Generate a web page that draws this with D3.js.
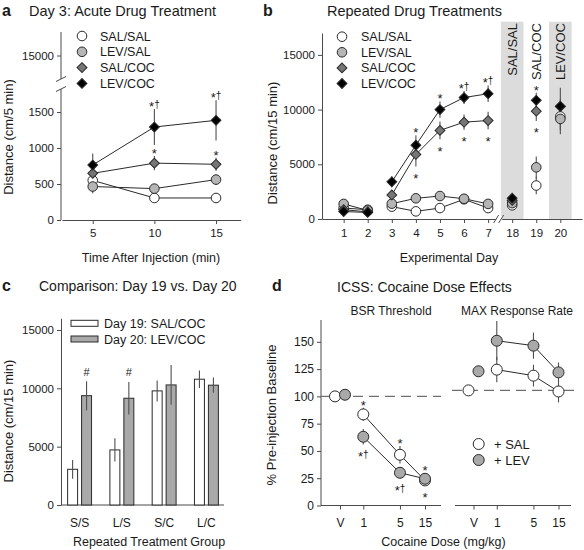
<!DOCTYPE html>
<html><head><meta charset="utf-8">
<script src="https://cdn.jsdelivr.net/npm/d3@7"></script>
<style>
body{margin:0;background:#fff}
text{font-family:"Liberation Sans",Arial,Helvetica,sans-serif;fill:#1a1a1a}
</style>
</head><body>
<svg id="chart" width="584" height="550"></svg>
<script>
// ---------- DATA ----------
const seriesNames = ["SAL/SAL","LEV/SAL","SAL/COC","LEV/COC"];
const seriesShape = ["circle","circle","diamond","diamond"];
const seriesFill  = ["#ffffff","#b5b5b5","#767676","#000000"];

// Panel a: Day 3 acute (cm/5 min)
const aTimes = [5,10,15];
const aYTicks = [0,500,1000,1500,15000];
const aSalSal = [550,306,306],  aSalSalErr = [40,30,30];
const aLevSal = [465,436,561],  aLevSalErr = [95,50,70];
const aSalCoc = [648,790,774],  aSalCocErr = [80,100,90];
const aLevCoc = [764,1292,1385],aLevCocErr = [160,250,280];
const aAnnot = [
  {s:3,i:1,t:"*†",pos:"above"},{s:3,i:2,t:"*†",pos:"above"},
  {s:2,i:1,t:"*",pos:"above"},{s:2,i:2,t:"*",pos:"above"}];

// Panel b: repeated treatments (cm/15 min)
const bDays = ["1","2","3","4","5","6","7","18","19","20"];
const bYTicks = [0,5000,10000,15000];
const bSalSal = [1000,850,1130,700,1000,1800,1000,1250,3060,9370];
const bSalSalErr = [150,100,150,150,150,150,150,150,800,1240];
const bLevSal = [1380,780,1400,1890,2100,1850,1380,1450,4720,9150];
const bLevSalErr = [150,100,200,200,200,200,200,150,1000,1400];
const bSalCoc = [850,650,2200,5900,8100,8850,9000,1700,9850,10290];
const bSalCocErr = [150,100,400,1100,800,700,800,200,900,1700];
const bLevCoc = [680,600,3400,6750,10000,11100,11450,1900,10850,10300];
const bLevCocErr = [150,100,500,900,750,600,750,200,700,650];
const bSegments = [[0,1],[2,6]];
const bBands = [{day:"18",label:"SAL/SAL",shade:true},{day:"19",label:"SAL/COC",shade:false},{day:"20",label:"LEV/COC",shade:true}];
const bAnnot = [
  {s:3,i:3,t:"*",pos:"above"},{s:3,i:4,t:"*",pos:"above"},{s:3,i:5,t:"*†",pos:"above"},
  {s:3,i:6,t:"*†",pos:"above"},{s:3,i:8,t:"*",pos:"above"},
  {s:2,i:3,t:"*",pos:"below"},{s:2,i:4,t:"*",pos:"below"},{s:2,i:5,t:"*",pos:"below"},
  {s:2,i:6,t:"*",pos:"below"},{s:2,i:8,t:"*",pos:"below"}];

// Panel c: Day 19 vs Day 20
const cGroups = ["S/S","L/S","S/C","L/C"];
const cYTicks = [0,5000,10000,15000];
const cDay19 = [3060,4720,9780,10780], cDay19Err = [800,1000,900,750];
const cDay20 = [9370,9150,10290,10270], cDay20Err = [1240,1400,1700,650];
const cLegend = ["Day 19: SAL/COC","Day 20: LEV/COC"];
const cHash = [true,true,false,false];

// Panel d: ICSS
const dDoses = ["V","1","5","15"];
const dDoseVals = [0.36,1,5,15];
const dYTicks = [0,25,50,75,100,125,150];
const dBsrSal = [100,83.5,46.5,23],   dBsrSalErr = [2,6,8,3];
const dBsrLev = [101.5,63,30,24.5],   dBsrLevErr = [2,7,5,3];
const dMaxSal = [105.5,124.5,119,104.5], dMaxSalErr = [2,11.5,10,10];
const dMaxLev = [123,151,146.5,122],  dMaxLevErr = [5,18,12,9];
const dAnnot = [
  {s:0,i:1,t:"*",pos:"above"},{s:1,i:1,t:"*†",pos:"below"},
  {s:0,i:2,t:"*",pos:"above"},{s:1,i:2,t:"*†",pos:"below"},
  {s:1,i:3,t:"*",pos:"above"},{s:0,i:3,t:"*",pos:"below"}];
const dSeriesNames = ["+ SAL","+ LEV"];
const dSeriesFill = ["#ffffff","#a9a9a9"];

// ---------- HELPERS ----------
const svg = d3.select("#chart");
svg.append("rect").attr("width",584).attr("height",550).attr("fill","#fff");
const AX = "#4a4a4a";
const fmt = d3.format("d");

function txt(g,x,y,s,o={}){
  const t=g.append("text").attr("x",x).attr("y",y).text(s)
    .attr("font-size",o.fs||12).attr("text-anchor",o.anchor||"start");
  if(o.weight) t.attr("font-weight",o.weight);
  if(o.rot) t.attr("transform",`rotate(${o.rot},${x},${y})`);
  return t;
}
function marker(g,shape,x,y,fill,r){
  if(shape==="circle"){
    g.append("circle").attr("cx",x).attr("cy",y).attr("r",r)
      .attr("fill",fill).attr("stroke","#2a2a2a").attr("stroke-width",1);
  } else {
    g.append("path").attr("d",d3.symbol(d3.symbolSquare,r*r*2.1)())
      .attr("transform",`translate(${x},${y}) rotate(45)`)
      .attr("fill",fill).attr("stroke","#2a2a2a").attr("stroke-width",1);
  }
}
function errbar(g,x,y1,y2){
  g.append("line").attr("x1",x).attr("x2",x).attr("y1",y1).attr("y2",y2)
    .attr("stroke","#505050").attr("stroke-width",1.1);
}
function annot(g,x,yTop,yBot,t,pos,fs=13){
  const c = pos==="above" ? yTop-5.5 : yBot+9;
  const el = g.append("text").attr("x",x).attr("y",c+0.57*fs)
    .attr("font-size",fs).attr("text-anchor","middle").attr("fill","#1a1a1a");
  el.append("tspan").text("*");
  if(t.length>1) el.append("tspan").attr("font-size",10).attr("dy",-3)
    .attr("fill","#1a1a1a").text(t.slice(1));
}
function styleAxis(sel,fs=11.5){
  sel.selectAll("path,line").attr("stroke",AX);
  sel.selectAll("text").attr("font-size",fs).attr("fill","#1a1a1a")
    .attr("font-family",'"Liberation Sans",Arial,sans-serif');
}

// ---------- PANEL A ----------
(function(){
  const g = svg.append("g");
  const x = d3.scaleLinear().domain([2.5,17]).range([61.9,240.7]);
  const y = d3.scaleLinear().domain([0,1820,13500,16500]).range([220,89,79,32]);
  const data = [[aSalSal,aSalSalErr],[aLevSal,aLevSalErr],[aSalCoc,aSalCocErr],[aLevCoc,aLevCocErr]];
  const xa = g.append("g").attr("transform","translate(0,220)")
    .call(d3.axisBottom(x).tickValues(aTimes).tickSize(4).tickSizeOuter(0).tickPadding(5));
  styleAxis(xa);
  const ya = g.append("g").attr("transform","translate(61,0)")
    .call(d3.axisLeft(y).tickValues(aYTicks).tickFormat(fmt).tickSize(4).tickPadding(3));
  ya.select(".domain").remove();
  styleAxis(ya);
  g.append("line").attr("x1",61).attr("x2",61).attr("y1",y(0)).attr("y2",y(1820)).attr("stroke",AX);
  g.append("line").attr("x1",61).attr("x2",61).attr("y1",y(13500)).attr("y2",y(16500)).attr("stroke",AX);
  [y(1820),y(13500)].forEach(v=>g.append("line").attr("x1",56).attr("x2",66).attr("y1",v+2.5).attr("y2",v-2.5).attr("stroke",AX));
  const r=4.8;
  data.forEach(([v,e])=>v.forEach((d,i)=>errbar(g,x(aTimes[i]),y(d+e[i]),y(d-e[i]))));
  const line = d3.line().x((d,i)=>x(aTimes[i])).y(d=>y(d));
  data.forEach(([v])=>g.append("path").attr("d",line(v)).attr("fill","none").attr("stroke","#2a2a2a").attr("stroke-width",1));
  data.forEach(([v],s)=>v.forEach((d,i)=>marker(g,seriesShape[s],x(aTimes[i]),y(d),seriesFill[s],r)));
  aAnnot.forEach(a=>{const [v,e]=data[a.s];const d=v[a.i];
    annot(g,x(aTimes[a.i]),Math.min(y(d+e[a.i]),y(d)-r),Math.max(y(d-e[a.i]),y(d)+r),a.t,a.pos);});
  seriesNames.forEach((n,s)=>{const yy=36+s*15.8;
    marker(g,seriesShape[s],82,yy,seriesFill[s],r);
    txt(g,100,yy+4.5,n,{fs:12.5});});
  txt(g,2,16,"a",{fs:16,weight:"bold"});
  txt(g,29,16,"Day 3: Acute Drug Treatment",{fs:14.5});
  txt(g,13,137,"Distance (cm/5 min)",{fs:13,anchor:"middle",rot:-90});
  txt(g,151,262,"Time After Injection (min)",{fs:12.5,anchor:"middle"});
})();

// ---------- PANEL B ----------
(function(){
  const g = svg.append("g");
  const x = d3.scalePoint().domain(bDays).range([322,582]).padding(0.9);
  const y = d3.scaleLinear().domain([0,17000]).range([219,33]);
  const step = x.step();
  bBands.filter(b=>b.shade).forEach(b=>g.append("rect").attr("x",x(b.day)-step*0.47).attr("width",step*0.94)
    .attr("y",21.7).attr("height",219-21.7).attr("fill","#dcdcdc"));
  const data = [[bSalSal,bSalSalErr],[bLevSal,bLevSalErr],[bSalCoc,bSalCocErr],[bLevCoc,bLevCocErr]];
  const xa = g.append("g").attr("transform","translate(0,219)")
    .call(d3.axisBottom(x).tickSize(4).tickSizeOuter(0).tickPadding(6));
  styleAxis(xa);
  const bx = (x("7")+x("18"))/2 - 1;
  g.append("rect").attr("x",bx-3).attr("y",216).attr("width",6).attr("height",6).attr("fill","#fff");
  [-3,2].forEach(o=>g.append("line").attr("x1",bx+o-2.5).attr("x2",bx+o+2.5).attr("y1",223).attr("y2",215).attr("stroke",AX));
  const ya = g.append("g").attr("transform","translate(322,0)")
    .call(d3.axisLeft(y).tickValues(bYTicks).tickFormat(fmt).tickSize(4).tickSizeOuter(0).tickPadding(3));
  styleAxis(ya);
  const r=4.8;
  data.forEach(([v,e])=>v.forEach((d,i)=>errbar(g,x(bDays[i]),y(d+e[i]),y(d-e[i]))));
  data.forEach(([v])=>bSegments.forEach(([a,b])=>{
    const pts=d3.range(a,b+1);
    g.append("path").attr("d",d3.line().x(i=>x(bDays[i])).y(i=>y(v[i]))(pts))
      .attr("fill","none").attr("stroke","#2a2a2a").attr("stroke-width",1);}));
  data.forEach(([v],s)=>v.forEach((d,i)=>marker(g,seriesShape[s],x(bDays[i]),y(d),seriesFill[s],r)));
  bAnnot.forEach(a=>{const [v,e]=data[a.s];const d=v[a.i];
    annot(g,x(bDays[a.i]),Math.min(y(d+e[a.i]),y(d)-r),Math.max(y(d-e[a.i]),y(d)+r),a.t,a.pos);});
  bBands.forEach(b=>txt(g,x(b.day)+5,23,b.label,{fs:13,anchor:"end",rot:-90}));
  seriesNames.forEach((n,s)=>{const yy=36.7+s*15.6;
    marker(g,seriesShape[s],342,yy,seriesFill[s],r);
    txt(g,361,yy+4.5,n,{fs:12.5});});
  txt(g,263,16,"b",{fs:16,weight:"bold"});
  txt(g,327,16,"Repeated Drug Treatments",{fs:14.5});
  txt(g,277,143,"Distance (cm/15 min)",{fs:13,anchor:"middle",rot:-90});
  txt(g,449,262,"Experimental Day",{fs:12.5,anchor:"middle"});
})();

// ---------- PANEL C ----------
(function(){
  const g = svg.append("g");
  const x = d3.scaleBand().domain(cGroups).range([62,224]).paddingInner(0.434).paddingOuter(0.133);
  const sub = d3.scaleBand().domain(["d19","d20"]).range([0,x.bandwidth()]).paddingInner(0.2857);
  const y = d3.scaleLinear().domain([0,16000]).range([505,318.3]);
  const ya = g.append("g").attr("transform","translate(61,0)")
    .call(d3.axisLeft(y).tickValues(cYTicks).tickFormat(fmt).tickSize(4).tickSizeOuter(0).tickPadding(3));
  styleAxis(ya);
  const xa = g.append("g").attr("transform","translate(0,505)")
    .call(d3.axisBottom(x).tickSize(0).tickPadding(13));
  xa.select(".domain").attr("d","M61,0H224");
  styleAxis(xa,12);
  const sets=[[cDay19,cDay19Err,"d19","#ffffff"],[cDay20,cDay20Err,"d20","#a9a9a9"]];
  sets.forEach(([v,e,k,f])=>v.forEach((d,i)=>{
    const bx=x(cGroups[i])+sub(k);
    g.append("rect").attr("x",bx).attr("y",y(d)).attr("width",sub.bandwidth()).attr("height",y(0)-y(d))
      .attr("fill",f).attr("stroke","#2a2a2a").attr("stroke-width",1);
    errbar(g,bx+sub.bandwidth()/2,y(d+e[i]),y(d-e[i]));
  }));
  cHash.forEach((h,i)=>{ if(!h) return;
    txt(g,x(cGroups[i])+sub("d20")+sub.bandwidth()/2,y(cDay20[i]+cDay20Err[i])-5.5,"#",{fs:11,anchor:"middle"});});
  cLegend.forEach((n,s)=>{const yy=323.3+s*15.7;
    g.append("rect").attr("x",71).attr("y",yy-3).attr("width",27).attr("height",6)
      .attr("fill",s?"#a9a9a9":"#fff").attr("stroke","#2a2a2a");
    txt(g,104,yy+4.5,n,{fs:12.5});});
  txt(g,2,291,"c",{fs:16,weight:"bold"});
  txt(g,39,291,"Comparison: Day 19 vs. Day 20",{fs:14});
  txt(g,13,421,"Distance (cm/15 min)",{fs:13,anchor:"middle",rot:-90});
  txt(g,149,546,"Repeated Treatment Group",{fs:12.5,anchor:"middle"});
})();

// ---------- PANEL D ----------
(function(){
  const g = svg.append("g");
  const y = d3.scaleLinear().domain([0,170]).range([505.5,320]);
  const subs = [
    {title:"BSR Threshold", cx:391, range:[340,425], axis:[321,441], dash:[321,441], yaxis:true,
     data:[[dBsrSal,dBsrSalErr],[dBsrLev,dBsrLevErr]], ann:dAnnot},
    {title:"MAX Response Rate", cx:517, range:[473.5,558.5], axis:[455,571], dash:[452,576], yaxis:false,
     data:[[dMaxSal,dMaxSalErr],[dMaxLev,dMaxLevErr]], ann:[]}];
  const r=5.5;
  subs.forEach(sp=>{
    const x = d3.scaleLog().domain([dDoseVals[0],dDoseVals[3]]).range(sp.range);
    const xa = g.append("g").attr("transform","translate(0,505.5)")
      .call(d3.axisBottom(x).tickValues(dDoseVals).tickFormat((d,i)=>dDoses[i]).tickSize(4).tickSizeOuter(0).tickPadding(9));
    xa.select(".domain").attr("d",`M${sp.axis[0]},0H${sp.axis[1]}`);
    styleAxis(xa,12);
    if(sp.yaxis){
      const ya = g.append("g").attr("transform",`translate(${sp.axis[0]},0)`)
        .call(d3.axisLeft(y).tickValues(dYTicks).tickSize(4).tickSizeOuter(0).tickPadding(3));
      ya.select(".domain").attr("d","M0,505.5V320");
      styleAxis(ya,12);
    }
    g.append("line").attr("x1",sp.dash[0]).attr("x2",sp.dash[1])
      .attr("y1",y(sp.data[0][0][0])).attr("y2",y(sp.data[0][0][0]))
      .attr("stroke","#707070").attr("stroke-width",1.2).attr("stroke-dasharray","10,6");
    const px = (s,i)=> x(dDoseVals[i]) + (i===0 ? (s===0?-5:5) : 0);
    sp.data.forEach(([v,e],s)=>v.forEach((d,i)=>errbar(g,px(s,i),y(d+e[i]),y(d-e[i]))));
    sp.data.forEach(([v],s)=>g.append("path").attr("d",d3.line().x(i=>px(s,i)).y(i=>y(v[i]))([1,2,3]))
      .attr("fill","none").attr("stroke","#2a2a2a").attr("stroke-width",1));
    sp.data.forEach(([v],s)=>v.forEach((d,i)=>marker(g,"circle",px(s,i),y(d),dSeriesFill[s],r)));
    sp.ann.forEach(a=>{const [v,e]=sp.data[a.s];const d=v[a.i];
      annot(g,px(a.s,a.i),Math.min(y(d+e[a.i]),y(d)-r),Math.max(y(d-e[a.i]),y(d)+r),a.t,a.pos);});
    txt(g,sp.cx,315,sp.title,{fs:12,anchor:"middle"});
  });
  dSeriesNames.forEach((n,s)=>{const yy=444+s*16;
    marker(g,"circle",478.7,yy,dSeriesFill[s],r);
    txt(g,494,yy+4.5,n,{fs:13});});
  txt(g,272,291,"d",{fs:16,weight:"bold"});
  txt(g,337,292,"ICSS: Cocaine Dose Effects",{fs:14});
  txt(g,276,415,"% Pre-injection Baseline",{fs:13,anchor:"middle",rot:-90});
  txt(g,443.5,546,"Cocaine Dose (mg/kg)",{fs:12.5,anchor:"middle"});
})();
</script>
</body></html>
